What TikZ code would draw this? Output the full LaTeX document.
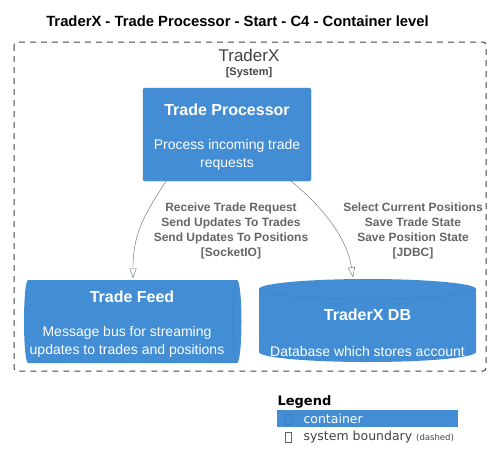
\documentclass[tikz,border=0pt]{standalone}
\usepackage{fontspec}
\setmainfont{Liberation Sans}
\newfontfamily\dejavu{DejaVu Sans}
\usetikzlibrary{arrows.meta,shapes,positioning,calc}

\definecolor{cfill}{HTML}{438DD5}
\definecolor{cline}{HTML}{3C7FC0}
\definecolor{lblgray}{HTML}{666666}
\definecolor{bndgray}{HTML}{444444}

\begin{document}
\begin{tikzpicture}[x=1pt, y=-1pt,
    box/.style={fill=cfill, draw=cline, rounded corners=2pt, text=white, align=center,
                minimum width=168pt, minimum height=93pt, inner sep=0pt},
    area/.style={minimum width=217pt, minimum height=83pt, inner sep=0pt},
    boxtitle/.style={text=white, font=\bfseries\fontsize{16}{19}\selectfont},
    boxtext/.style={text=white, align=center, font=\fontsize{14}{18}\selectfont},
    rel/.style={draw=lblgray, -{Triangle[open, length=10pt, width=7pt]}},
    rellabel/.style={text=lblgray, align=center, font=\bfseries\fontsize{12}{15}\selectfont}]
          % Define page
          \useasboundingbox (0,0) rectangle (492,471);
          \fill[white] (0,0) rectangle (492,471);

          % Title
          \node (title) at (237.5,21) {\bfseries\fontsize{14.8}{17}\selectfont TraderX - Trade Processor - Start - C4 - Container level};

          % System boundary
          \draw[bndgray, line width=1pt, dash pattern=on 6pt off 5pt, rounded corners=3pt] (14,42) rectangle (486,371);
          \node[text=bndgray] (sysname) at (249,55) {\fontsize{17}{19}\selectfont TraderX};
          \node[text=bndgray] (systag) at (249,73) {\bfseries\fontsize{11}{13}\selectfont [System]};

          % Trade Processor
          \node[box] (proc) at (227,134.5) {};
          \node[boxtitle] (proctitle) at (227,110) {Trade Processor};
          \node[boxtext] (proctext) at (227,155) {Process incoming trade\\requests};

          % Trade Feed (queue)
          \node[area] (feed) at (132.5,321.5) {};
          \fill[cfill] (28,280) -- (237,280) arc[start angle=-90, end angle=90, x radius=4.5, y radius=41.5]
                -- (28,363) arc[start angle=90, end angle=270, x radius=4, y radius=41.5] -- cycle;
          \draw[cline] (237,280) arc[start angle=-90, end angle=-270, x radius=4.5, y radius=41.5];
          \node[boxtitle] (feedtitle) at (132,297) {Trade Feed};
          \node[boxtext] (feedtext) at (127,342) {Message bus for streaming\\updates to trades and positions};

          % TraderX DB (cylinder)
          \node[area] (db) at (367.5,320.5) {};
          \fill[cfill] (259,289) -- (259,352) arc[start angle=180, end angle=0, x radius=108.5, y radius=10]
                -- (476,289) arc[start angle=0, end angle=-180, x radius=108.5, y radius=10] -- cycle;
          \draw[cline] (259,289) arc[start angle=180, end angle=0, x radius=108.5, y radius=10];
          \node[boxtitle] (dbtitle) at (367.5,315) {TraderX DB};
          \node[boxtext] (dbtext) at (367.5,351.5) {Database which stores account};

          % Relations
          \draw[rel] ($(proc.south)+(-61,0)$) .. controls +(-22,34) and +(0,-45) .. ($(feed.north)+(0.5,-1.5)$);
          \draw[rel] ($(proc.south)+(64,0)$) .. controls +(30,24) and +(-6,-40) .. ($(db.north)+(-14.5,-1.5)$);
          \node[rellabel] (rel1) at (231,230.5) {Receive Trade Request\\Send Updates To Trades\\Send Updates To Positions\\{[SocketIO]}};
          \node[rellabel] (rel2) at (413,230.5) {Select Current Positions\\Save Trade State\\Save Position State\\{[JDBC]}};

          % Legend
          \node[anchor=west] (legend) at (274,402) {\dejavu\bfseries\fontsize{13}{16}\selectfont Legend};
          \fill[cfill] (277,410) rectangle (458,427);
          \draw[cline] (285,414) rectangle (291,424);
          \node[anchor=west, text=white] (legcont) at (300,419) {\dejavu\fontsize{12.5}{15}\selectfont container};
          \draw[lblgray] (285,432) rectangle (291,442);
          \node[anchor=west, text=bndgray] (legbnd) at (300,437) {\dejavu\fontsize{12.5}{15}\selectfont system boundary {\fontsize{8.5}{10}\selectfont(dashed)}};
        \end{tikzpicture}
\end{document}
